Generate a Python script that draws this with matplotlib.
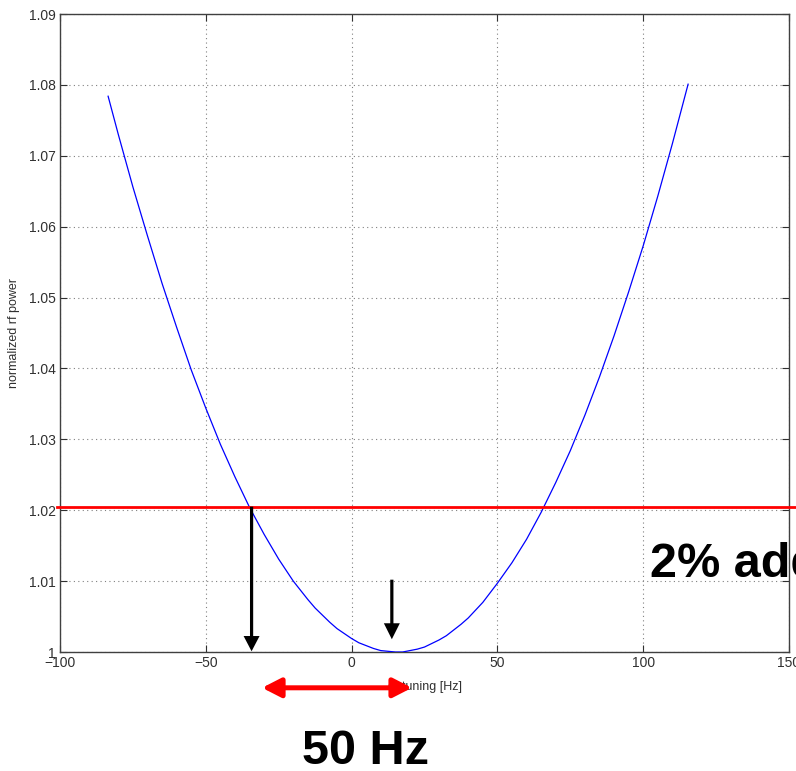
import matplotlib
matplotlib.use("Agg")
import matplotlib.pyplot as plt

# detuning [Hz] and normalized rf power
detuning = [-83.5, -80, -75, -70, -65, -60, -55, -50, -45, -40, -35, -30, -25,
            -20, -15, -12.5, -10, -7.5, -5, -2.5, 0, 2.5, 5, 7.5, 10, 12.5, 15,
            17.5, 20, 22.5, 25, 27.5, 30, 32.5, 35, 37.5, 40, 42.5, 45, 50, 55,
            60, 65, 70, 75, 80, 85, 90, 95, 100, 105, 110, 115.4]
power = [1.0784, 1.0730, 1.0656, 1.0587, 1.0520, 1.0458, 1.0398, 1.0344, 1.0293,
         1.0247, 1.0204, 1.0166, 1.0131, 1.0100, 1.0074, 1.0062, 1.0052, 1.0042,
         1.0033, 1.0026, 1.0019, 1.0013, 1.0009, 1.0005, 1.0002, 1.0001, 1.0000,
         1.0000, 1.0002, 1.0004, 1.0007, 1.0012, 1.0017, 1.0023, 1.0031, 1.0039,
         1.0048, 1.0059, 1.0070, 1.0097, 1.0126, 1.0159, 1.0197, 1.0239, 1.0284,
         1.0334, 1.0388, 1.0446, 1.0508, 1.0573, 1.0643, 1.0717, 1.0801]

threshold = 1.0205          # 2% line
left_cross = -34.3          # detuning at threshold crossing
min_detuning = 13.8         # detuning of optimum marker
span_start, span_end = -30.7, 20.7   # 50 Hz span arrow

xticks = [-100, -50, 0, 50, 100, 150]
yticks = [1.0, 1.01, 1.02, 1.03, 1.04, 1.05, 1.06, 1.07, 1.08, 1.09]
yticklabels = ["1", "1.01", "1.02", "1.03", "1.04", "1.05", "1.06", "1.07", "1.08", "1.09"]

plt.rcParams['font.family'] = ['Liberation Sans', 'DejaVu Sans']

fig = plt.figure(figsize=(7.96, 7.71), dpi=100)
ax = fig.add_axes([60/796, 1 - 652/771, (789 - 60)/796, (652 - 14)/771])

ax.plot(detuning, power, color='#0000ff', lw=0.9, zorder=3)

ax.set_xlim(-100, 150)
ax.set_ylim(1.0, 1.09)
ax.set_xticks(xticks)
ax.set_xticklabels([str(t).replace('-', '\u2212') for t in xticks])
ax.set_yticks(yticks)
ax.set_yticklabels(yticklabels)
ax.tick_params(direction='in', length=5, width=0.8, top=True, right=True,
               labelsize=10, colors='#303030', pad=3)
for s in ax.spines.values():
    s.set_color('#404040')
    s.set_linewidth(1.0)
ax.grid(True, color='#808080', linestyle=(0, (1, 3)), linewidth=0.8)

ax.set_xlabel('detuning [Hz]', fontsize=9, color='#303030')
ax.set_ylabel('normalized rf power', fontsize=9, color='#303030')
ax.xaxis.set_label_coords(0.5, -0.045)
ax.yaxis.set_label_coords(-0.055, 0.5)

# red threshold line extending past the axes
ax.plot([-101, 155], [threshold, threshold], color='#ff0000', lw=2.0,
        clip_on=False, zorder=4)

# black arrows
ax.annotate('', xy=(left_cross, 1.0001), xytext=(left_cross, threshold),
            arrowprops=dict(facecolor='black', edgecolor='none', width=2.3,
                            headwidth=11.5, headlength=11, shrink=0), zorder=5)
ax.annotate('', xy=(min_detuning, 1.0018), xytext=(min_detuning, 1.0102),
            arrowprops=dict(facecolor='black', edgecolor='none', width=2.3,
                            headwidth=11.5, headlength=11.5, shrink=0), zorder=5)

# red double arrow below the axes
ax.annotate('', xy=(span_end, 0.99495), xytext=(span_start, 0.99495),
            xycoords='data', annotation_clip=False,
            arrowprops=dict(arrowstyle='<|-|>,head_length=0.8,head_width=0.41',
                            mutation_scale=14, lw=3.6, color='#ff0000',
                            shrinkA=0, shrinkB=0), zorder=6)

fig.text(366/796, 1 - 752/771, '50 Hz', fontsize=35, fontweight='bold',
         ha='center', va='center')
fig.text(650/796, 1 - 577/771, '2% additional', fontsize=35, fontweight='bold',
         ha='left', va='baseline')

fig.savefig('out.png', dpi=100)
